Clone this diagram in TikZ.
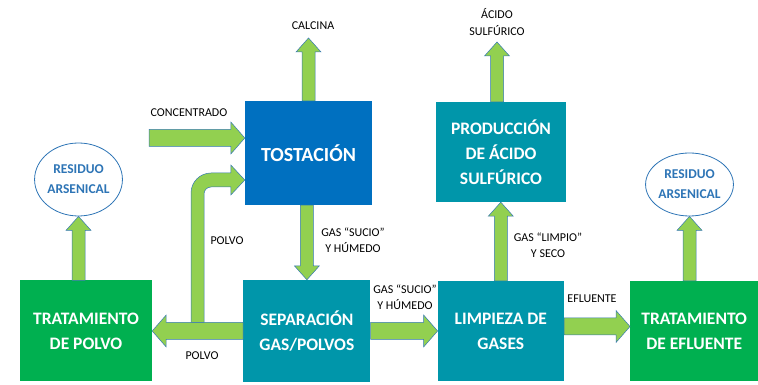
\documentclass[tikz,border=0pt]{standalone}
\usepackage{fontspec}
\setmainfont{Carlito}
\usetikzlibrary{calc, positioning, shapes.geometric}
\definecolor{tostblue}{RGB}{0,112,192}
\definecolor{procteal}{RGB}{0,150,170}
\definecolor{treatgreen}{RGB}{0,176,80}
\definecolor{arrowgreen}{RGB}{146,208,80}
\definecolor{arrowline}{RGB}{52,120,180}
\definecolor{resblue}{RGB}{46,117,182}
\tikzset{x=1pt, y=1pt,
box/.style={ % Process boxes
rectangle, inner sep=0pt, align=center, text=white,
font=\bfseries\fontsize{17.5}{25}\selectfont},
residue/.style={ % Waste ellipses
ellipse, inner sep=0pt, align=center, draw=resblue, fill=white,
line width=0.8pt, text=resblue, font=\bfseries\fontsize{13.5}{20}\selectfont},
lbl/.style={inner sep=0pt, align=center, font=\fontsize{12}{16.5}\selectfont},
fat arrow/.style={draw=arrowline, fill=arrowgreen, line width=0.5pt, line join=miter},
fat/.style 2 args={ % Block arrow: half shaft width, half head width
fat arrow,
to path={let \p1=(\tikztostart), \p2=(\tikztotarget),
\n1={atan2(\y2-\y1,\x2-\x1)} in
-- ([shift={(\n1+90:#1)}]\p1)
-- ([shift={(\n1:-14pt)}, shift={(\n1+90:#1)}]\p2)
-- ([shift={(\n1:-14pt)}, shift={(\n1+90:#2)}]\p2)
-- (\p2)
-- ([shift={(\n1:-14pt)}, shift={(\n1-90:#2)}]\p2)
-- ([shift={(\n1:-14pt)}, shift={(\n1-90:#1)}]\p2)
-- ([shift={(\n1-90:#1)}]\p1)
-- cycle}},
hfat/.style={fat={8.5pt}{16pt}},
vfat/.style={fat={6.5pt}{12.5pt}}}

\begin{document}
\begin{tikzpicture}
    \useasboundingbox (0,0) rectangle (758,385);

    % bottom row
    \node[box, fill=treatgreen, minimum width=132pt, minimum height=101pt] (tpolvo) at (86,54) {TRATAMIENTO\\DE POLVO};
    \node[box, fill=procteal, minimum width=127pt, minimum height=102pt, right=91pt of tpolvo] (sep) {SEPARACIÓN\\GAS/POLVOS};
    \node[box, fill=procteal, minimum width=126pt, minimum height=100pt, right=67pt of sep] (limp) {LIMPIEZA DE\\GASES};
    \node[box, fill=treatgreen, minimum width=128pt, minimum height=100pt, right=66pt of limp] (efl) {TRATAMIENTO\\DE EFLUENTE};

    % top row
    \node[box, fill=tostblue, minimum width=127pt, minimum height=104pt, font=\bfseries\fontsize{20}{25}\selectfont] (tost) at (308.5,232) {TOSTACIÓN};
    \node[box, fill=procteal, minimum width=130pt, minimum height=100pt] (prod) at (501,233) {PRODUCCIÓN\\DE ÁCIDO\\SULFÚRICO};

    \node[residue, minimum width=87pt, minimum height=73pt] (res1) at (78.5,205.5) {RESIDUO\\ARSENICAL};
    \node[residue, minimum width=87pt, minimum height=63pt] (res2) at (689.5,200.5) {RESIDUO\\ARSENICAL};

    \coordinate (calcina) at (308.5,347);
    \coordinate (conc) at (149,247);
    \coordinate (acido) at (497,343);
    \coordinate (pup) at (197.5,62.5);
    \coordinate (polvoin) at ([yshift=-27pt]tost.west);

    % flows
    \draw[vfat] (tost.north) to (calcina);
    \draw[hfat] (conc) to (conc -| tost.west);
    \draw[vfat] (acido |- prod.north) to (acido);
    \draw[vfat] (sep.north |- tost.south) to (sep.north);
    \draw[hfat] (sep.west) to (tpolvo.east);
    \draw[hfat] (sep.east) to (limp.west);
    \draw[hfat] ([yshift=4.5pt]limp.east) to ([yshift=4.5pt]efl.west);
    \draw[vfat] (limp.north) to (limp.north |- prod.south);
    \draw[vfat] (tpolvo.north -| res1.south) to (res1.south);
    \draw[vfat] (efl.north -| res2.south) to (res2.south);

    % dust back to roasting
    \draw[fat arrow] ([xshift=-6.5pt]pup) -- ([xshift=-6.5pt, yshift=-13pt]pup |- polvoin)
        arc[start angle=180, end angle=90, radius=20pt]
        -- ([xshift=-14pt, yshift=7pt]polvoin) -- ([xshift=-14pt, yshift=15pt]polvoin)
        -- (polvoin) -- ([xshift=-14pt, yshift=-15pt]polvoin) -- ([xshift=-14pt, yshift=-7pt]polvoin)
        -- ([xshift=13.5pt, yshift=-7pt]pup |- polvoin)
        arc[start angle=90, end angle=180, radius=7pt]
        -- ([xshift=6.5pt]pup) -- cycle;

    % labels
    \node[lbl] (lcalcina) at (313,359) {CALCINA};
    \node[lbl] (lconc) at (189,272) {CONCENTRADO};
    \node[lbl] (lacido) at (497,363) {ÁCIDO\\SULFÚRICO};
    \node[lbl] (lpolvo1) at (227,144) {POLVO};
    \node[lbl] (lpolvo2) at (202,29) {POLVO};
    \node[lbl] (lgas1) at (353,145) {GAS “SUCIO”\\Y HÚMEDO};
    \node[lbl] (lgas2) at (405,88) {GAS “SUCIO”\\Y HÚMEDO};
    \node[lbl] (lgas3) at (548,140) {GAS “LIMPIO”\\Y SECO};
    \node[lbl] (lefl) at (592,86) {EFLUENTE};

\end{tikzpicture}
\end{document}
